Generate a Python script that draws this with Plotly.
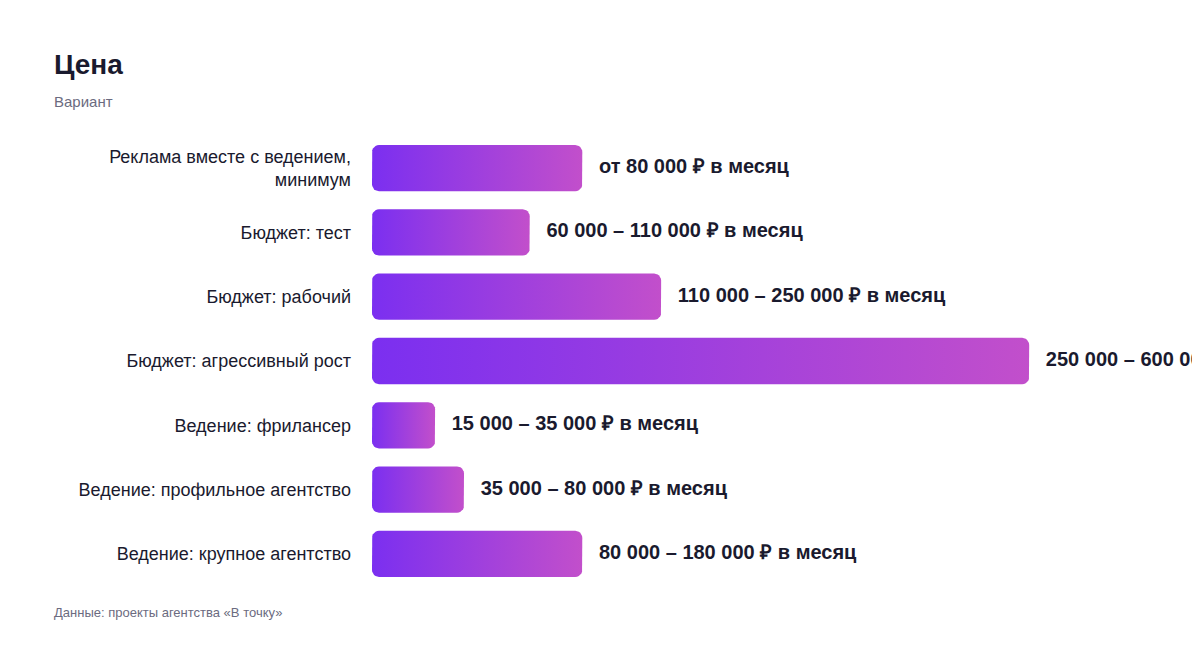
import plotly.graph_objects as go
import math

categories = ["Реклама вместе с ведением,<br>минимум", "Бюджет: тест", "Бюджет: рабочий",
              "Бюджет: агрессивный рост", "Ведение: фрилансер",
              "Ведение: профильное агентство", "Ведение: крупное агентство"]
values = [80000, 60000, 110000, 250000, 24000, 35000, 80000]
labels = ["от 80 000 ₽ в месяц", "60 000 – 110 000 ₽ в месяц", "110 000 – 250 000 ₽ в месяц",
          "250 000 – 600 000 ₽ в месяц", "15 000 – 35 000 ₽ в месяц",
          "35 000 – 80 000 ₽ в месяц", "80 000 – 180 000 ₽ в месяц"]

OFF = 8  # page body margin
W, H = 1200, 648
ml, mr, mt, mb = 372 - OFF, 50, 136 - OFF, 62 + OFF
xmax = 299000
px_x = xmax / (W - ml - mr)
px_y = 7 / (H - mt - mb)
half = 0.36
r = 7
FONT = "Liberation Sans, Arial, sans-serif"
fig = go.Figure()
for i, v in enumerate(values):
    rx, ry = r * px_x, r * px_y
    xs, ys = [], []
    corners = [(v - rx, i - half + ry, -90), (v - rx, i + half - ry, 0),
               (rx, i + half - ry, 90), (rx, i - half + ry, 180)]
    for cx, cy, a0 in corners:
        for k in range(7):
            a = math.radians(a0 + k * 15)
            xs.append(cx + rx * math.cos(a)); ys.append(cy + ry * math.sin(a))
    xs.append(xs[0]); ys.append(ys[0])
    fig.add_trace(go.Scatter(x=xs, y=ys, fill="toself", mode="lines", line=dict(width=0),
                             fillgradient=dict(type="horizontal",
                                               colorscale=[[0, "#7B2FF0"], [1, "#C24FCB"]]),
                             hoverinfo="skip", showlegend=False))
fig.add_trace(go.Scatter(x=values, y=list(range(7)), mode="text", text=["   " + t for t in labels],
                         textposition="middle right", cliponaxis=False,
                         textfont=dict(size=20, color="#1a1a2e", family=FONT, weight="bold"),
                         showlegend=False, hoverinfo="skip"))
pw, ph = W - ml - mr, H - mt - mb

def ann(text, px, py, size, color):
    return dict(text=text, x=(px - OFF - ml) / pw, y=(H - py - OFF - mb) / ph * 1 + 0,
                xref="paper", yref="paper", showarrow=False, xanchor="left", yanchor="middle",
                font=dict(size=size, color=color, family=FONT))

annots = [ann("<b>Цена</b>", 52, 65, 28, "#1a1a2e"),
          ann("Вариант", 52, 102, 15, "#6b6b80"),
          ann("Данные: проекты агентства «В точку»", 52, 612, 13, "#6b6b80")]
# y in paper: pixel from top py (page) -> figure y = py - OFF; paper y = (H - mb - (py-OFF)) / ph
for a, py in zip(annots, [65, 102, 612]):
    a["y"] = (H - mb - (py - OFF)) / ph

fig.update_layout(
    width=W, height=H, margin=dict(l=ml, r=mr, t=mt, b=mb),
    plot_bgcolor="white", paper_bgcolor="white",
    font=dict(family=FONT, color="#1a1a2e"),
    xaxis=dict(range=[0, xmax], visible=False),
    yaxis=dict(range=[6.5, -0.5], tickvals=list(range(7)), ticktext=categories,
               showgrid=False, zeroline=False, ticklabelstandoff=20,
               tickfont=dict(size=18, color="#1a1a2e", family=FONT)),
    annotations=annots,
)
fig.write_html("out.html")
